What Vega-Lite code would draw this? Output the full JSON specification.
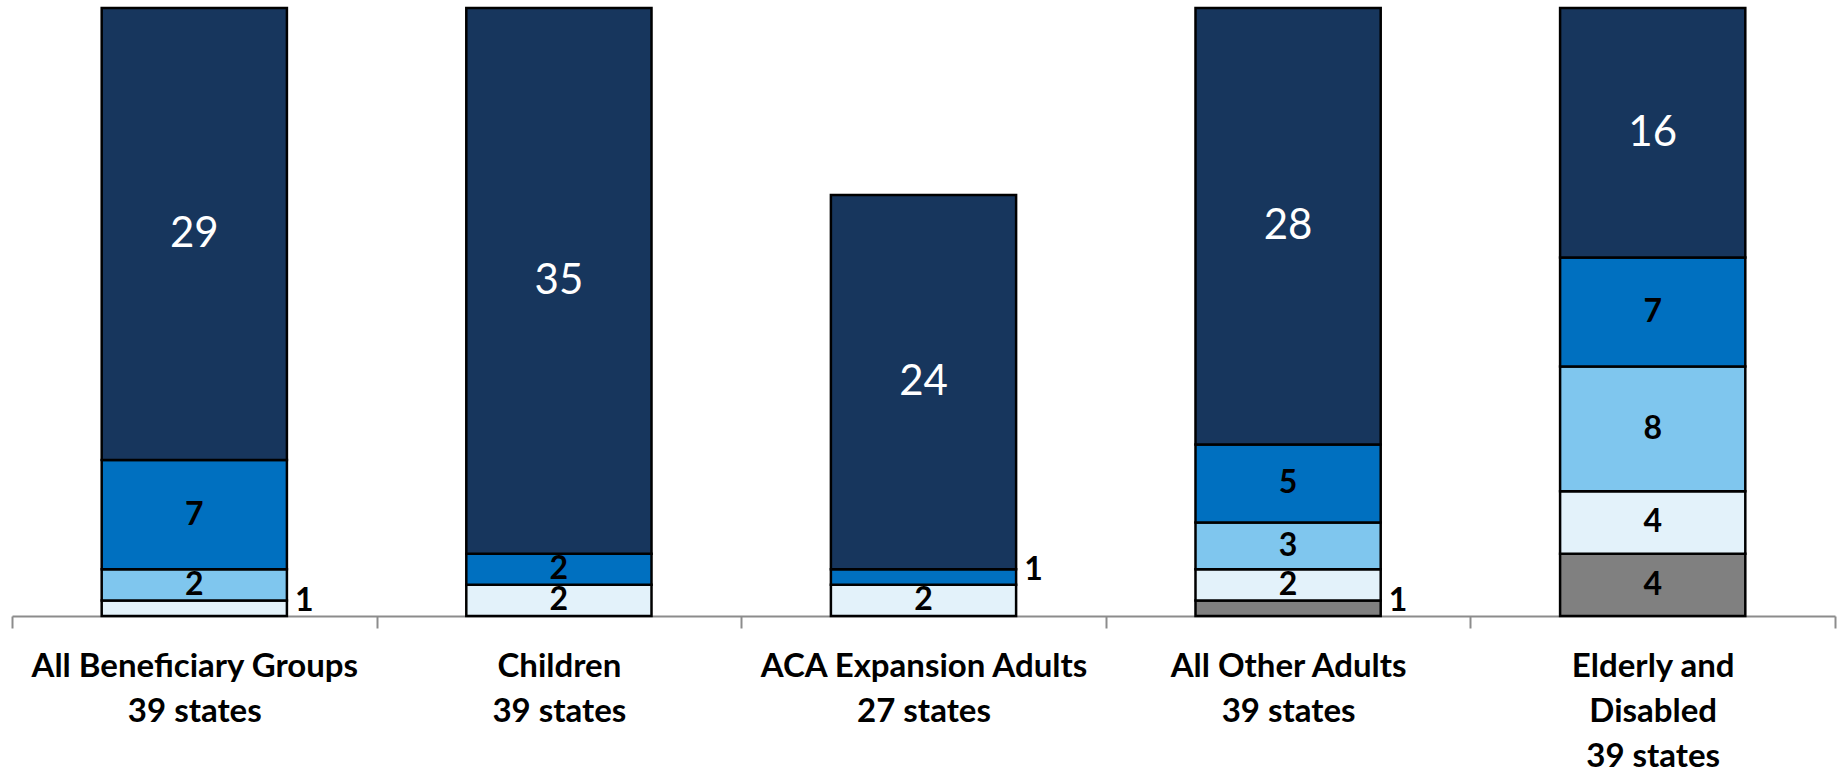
{
  "$schema": "https://vega.github.io/schema/vega-lite/v6.json",
  "autosize": {"type": "none"},
  "width": 1823,
  "height": 608,
  "padding": {"left": 12, "top": 8, "right": 4, "bottom": 158},
  "background": "white",
  "config": {"view": {"stroke": null}, "font": "Lato"},
  "data": {
    "values": [
      {"group": "All Beneficiary Groups|39 states", "tier": "T2", "value": 1},
      {"group": "All Beneficiary Groups|39 states", "tier": "T3", "value": 2},
      {"group": "All Beneficiary Groups|39 states", "tier": "T4", "value": 7},
      {"group": "All Beneficiary Groups|39 states", "tier": "T5", "value": 29},
      {"group": "Children|39 states", "tier": "T2", "value": 2},
      {"group": "Children|39 states", "tier": "T4", "value": 2},
      {"group": "Children|39 states", "tier": "T5", "value": 35},
      {"group": "ACA Expansion Adults|27 states", "tier": "T2", "value": 2},
      {"group": "ACA Expansion Adults|27 states", "tier": "T4", "value": 1},
      {"group": "ACA Expansion Adults|27 states", "tier": "T5", "value": 24},
      {"group": "All Other Adults|39 states", "tier": "T1", "value": 1},
      {"group": "All Other Adults|39 states", "tier": "T2", "value": 2},
      {"group": "All Other Adults|39 states", "tier": "T3", "value": 3},
      {"group": "All Other Adults|39 states", "tier": "T4", "value": 5},
      {"group": "All Other Adults|39 states", "tier": "T5", "value": 28},
      {"group": "Elderly and|Disabled|39 states", "tier": "T1", "value": 4},
      {"group": "Elderly and|Disabled|39 states", "tier": "T2", "value": 4},
      {"group": "Elderly and|Disabled|39 states", "tier": "T3", "value": 8},
      {"group": "Elderly and|Disabled|39 states", "tier": "T4", "value": 7},
      {"group": "Elderly and|Disabled|39 states", "tier": "T5", "value": 16}
    ]
  },
  "transform": [
    {"stack": "value", "groupby": ["group"], "sort": [{"field": "tier", "order": "ascending"}], "as": ["y0", "y1"]},
    {"calculate": "(datum.y0 + datum.y1) / 2", "as": "ymid"}
  ],
  "encoding": {
    "x": {
      "field": "group",
      "type": "nominal",
      "sort": null,
      "scale": {"paddingInner": 0, "paddingOuter": 0},
      "axis": {
        "title": null,
        "labelAngle": 0,
        "labelExpr": "split(datum.label, '|')",
        "labelFont": "Lato",
        "labelFontWeight": "bold",
        "labelFontSize": 33,
        "labelColor": "#000000",
        "labelLineHeight": 45,
        "labelPadding": 22,
        "labelLimit": 500,
        "labelOverlap": false,
        "labelFlush": false,
        "domain": true,
        "domainColor": "#8C8C8C",
        "domainWidth": 2,
        "ticks": true,
        "tickBand": "extent",
        "tickSize": 12,
        "tickColor": "#8C8C8C",
        "tickWidth": 2,
        "grid": false
      }
    }
  },
  "layer": [
    {
      "mark": {"type": "bar", "width": {"band": 0.508}, "stroke": "#000000", "strokeWidth": 2.5},
      "encoding": {
        "y": {"field": "y0", "type": "quantitative", "scale": {"domain": [0, 39], "nice": false}, "axis": null},
        "y2": {"field": "y1"},
        "color": {
          "field": "tier",
          "type": "nominal",
          "scale": {"domain": ["T1", "T2", "T3", "T4", "T5"], "range": ["#808080", "#E3F2FA", "#7FC6EE", "#0070C0", "#17365D"]},
          "legend": null
        }
      }
    },
    {
      "transform": [{"filter": "datum.tier == 'T5'"}],
      "mark": {"type": "text", "font": "Lato", "fontSize": 42, "color": "#FFFFFF", "baseline": "middle", "align": "center"},
      "encoding": {
        "y": {"field": "ymid", "type": "quantitative"},
        "text": {"field": "value", "type": "quantitative"}
      }
    },
    {
      "transform": [{"filter": "datum.tier != 'T5' && datum.value >= 2"}],
      "mark": {"type": "text", "font": "Lato", "fontSize": 32, "fontWeight": "bold", "color": "#000000", "baseline": "middle", "align": "center"},
      "encoding": {
        "y": {"field": "ymid", "type": "quantitative"},
        "text": {"field": "value", "type": "quantitative"}
      }
    },
    {
      "transform": [{"filter": "datum.value == 1"}],
      "mark": {"type": "text", "font": "Lato", "fontSize": 32, "fontWeight": "bold", "color": "#000000", "baseline": "middle", "align": "center", "dx": 110, "dy": -7},
      "encoding": {
        "y": {"field": "ymid", "type": "quantitative"},
        "text": {"field": "value", "type": "quantitative"}
      }
    }
  ]
}
